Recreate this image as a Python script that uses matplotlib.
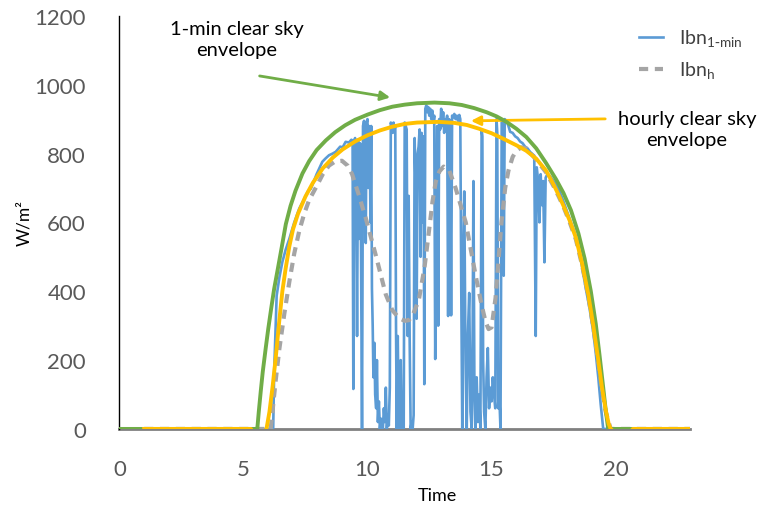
import matplotlib
matplotlib.use("Agg")
import matplotlib.pyplot as plt

plt.rcParams["font.family"] = ["Lato", "DejaVu Sans"]

# ----------------------
# data (hours, W/m2)
# ----------------------
# 1-min direct normal irradiance
blue_time = [0, 6.2, 6.24, 6.34, 6.45, 6.57, 6.7, 6.85, 7.05, 7.25, 7.45, 7.6, 7.72, 7.95, 8.18,
             8.3, 8.45, 8.6, 8.72, 8.9, 9.0, 9.12, 9.25, 9.35,
             9.40, 9.43, 9.46, 9.50, 9.55, 9.58, 9.62, 9.66, 9.70, 9.74, 9.78, 9.82, 9.86, 9.90,
             9.93, 9.96, 10.00, 10.03, 10.06, 10.09, 10.12, 10.15, 10.18, 10.21, 10.24, 10.28,
             10.31, 10.35, 10.38, 10.42, 10.46, 10.50, 10.54, 10.58, 10.62, 10.66, 10.70, 10.74,
             10.78, 10.82, 10.86, 10.90,
             10.94, 10.98, 11.02, 11.05, 11.09, 11.12, 11.15, 11.18, 11.22, 11.26, 11.30, 11.34,
             11.38, 11.42, 11.46, 11.50, 11.54, 11.58, 11.62, 11.66, 11.70, 11.74, 11.78, 11.82,
             11.86, 11.90, 11.94, 11.98, 12.02, 12.06, 12.10, 12.14, 12.18, 12.22, 12.26, 12.29,
             12.33, 12.37, 12.41, 12.45, 12.49, 12.53, 12.57, 12.61, 12.65, 12.69, 12.73, 12.77,
             12.81, 12.85, 12.89, 12.93, 12.97, 13.01, 13.05, 13.09, 13.13, 13.17, 13.21, 13.25,
             13.29, 13.33, 13.37, 13.41, 13.45, 13.50, 13.55, 13.60, 13.65, 13.70, 13.74, 13.78,
             13.82, 13.86, 13.90, 13.95, 14.00, 14.05, 14.10, 14.15, 14.20, 14.24, 14.27, 14.31,
             14.35, 14.40, 14.45, 14.50, 14.55, 14.60, 14.63, 14.66, 14.70, 14.75, 14.80, 14.85,
             14.90, 14.95, 15.00, 15.05, 15.10, 15.15, 15.20, 15.23, 15.27, 15.31, 15.36, 15.41,
             15.45, 15.49, 15.53, 15.60, 15.68, 15.75, 15.85, 15.95, 16.05, 16.15, 16.25, 16.35,
             16.45, 16.55, 16.65, 16.72, 16.78, 16.82, 16.88, 16.93, 16.98, 17.03, 17.08, 17.13,
             17.18, 17.25, 17.35, 17.5, 17.7, 17.85, 18.0, 18.2, 18.4, 18.6, 18.8, 18.95, 19.1,
             19.2, 19.3, 19.4, 19.5, 23]
blue_ibn = [0, 0, 166, 387, 440, 485, 520, 552, 600, 640, 668, 690, 698, 740, 776,
            785, 795, 800, 805, 820, 818, 834, 832, 840,
            838, 116, 830, 845, 600, 270, 840, 552, 830, 520, 0, 880, 895, 860,
            540, 890, 900, 700, 880, 850, 600, 880, 407, 300, 150, 250,
            100, 60, 200, 20, 80, 0, 30, 20, 0, 60, 20, 120,
            0, 40, 10, 120,
            890, 880, 860, 890, 870, 880, 300, 0, 270, 20, 0, 200,
            0, 100, 0, 890, 880, 870, 270, 677, 260, 0, 20, 0,
            40, 845, 700, 320, 800, 820, 870, 500, 860, 600, 850, 130,
            930, 940, 920, 935, 910, 930, 900, 925, 890, 910, 203, 600,
            880, 300, 900, 870, 930, 880, 920, 860, 900, 880, 910, 328,
            900, 880, 330, 910, 905, 915, 900, 910, 895, 912, 900, 400,
            0, 500, 690, 200, 0, 280, 395, 50, 0, 300, 720, 100,
            0, 150, 20, 100, 0, 870, 850, 200, 50, 0, 150, 235,
            60, 120, 80, 150, 100, 60, 900, 860, 60, 100, 0, 900,
            890, 445, 900, 895, 880, 863, 860, 850, 845, 835, 830, 820,
            815, 805, 798, 794, 270, 760, 720, 600, 740, 650, 720, 484,
            730, 740, 735, 720, 697, 670, 640, 600, 560, 490, 407, 350, 280,
            220, 150, 70, 0, 0]

# hourly direct normal irradiance
gray_time = [1, 6.1, 6.3, 6.45, 6.65, 6.85, 7.05, 7.25, 7.45, 7.65, 7.95, 8.2, 8.45, 8.7, 8.97,
             9.2, 9.38, 9.65, 9.94, 10.34, 10.74, 11.0, 11.27, 11.5, 11.67, 11.85, 12.07, 12.3,
             12.47, 12.62, 12.75, 12.9, 13.07, 13.3, 13.55, 13.96, 14.36, 14.6, 14.76, 14.88,
             15.0, 15.16, 15.4, 15.55, 15.68, 15.85, 16.0, 16.2, 16.4, 16.8, 17.2, 17.5, 17.7,
             17.9, 18.15, 18.4, 18.65, 18.9, 19.1, 19.3, 19.45, 19.6, 19.8, 23]
gray_ibn = [0, 0, 140, 233, 335, 427, 510, 575, 625, 665, 705, 740, 765, 777, 779,
            765, 740, 680, 610, 503, 390, 345, 322, 314, 316, 335, 375, 470,
            570, 660, 718, 748, 762, 750, 700, 600, 445, 360, 311, 290,
            295, 380, 600, 700, 750, 790, 808, 818, 815, 782, 745, 705, 676,
            645, 600, 550, 475, 385, 295, 195, 115, 50, 0, 0]

# 1-min clear sky envelope
green_time = [0, 5.56, 5.62, 5.7, 5.78, 5.9, 6.0, 6.12, 6.24, 6.4, 6.55, 6.71, 6.9, 7.1, 7.38,
              7.65, 7.95, 8.32, 8.7, 9.1, 9.5, 10.0, 10.5, 11.0, 11.5, 12.0, 12.7, 13.3, 13.8,
              14.3, 14.8, 15.2, 15.6, 16.0, 16.4, 16.8, 17.2, 17.6, 17.9, 18.2, 18.5, 18.75,
              19.0, 19.2, 19.35, 19.5, 19.6, 19.7, 23]
green_ibn = [0, 0, 50, 110, 166, 235, 290, 350, 407, 470, 530, 595, 648, 692, 742,
             778, 810, 838, 862, 882, 898, 913, 926, 936, 942, 946, 948, 946, 941,
             932, 920, 908, 892, 872, 848, 815, 772, 725, 685, 635, 568, 495,
             400, 305, 215, 120, 55, 0, 0]

# hourly clear sky envelope
yellow_time = [1, 5.3, 5.5, 5.75, 5.93, 6.05, 6.18, 6.31, 6.44, 6.57, 6.7, 6.85, 7.0, 7.2, 7.5,
               7.8, 8.2, 8.6, 9.0, 9.5, 10.0, 10.5, 11.0, 11.5, 12.0, 12.87, 13.5, 14.0, 14.5,
               15.0, 15.5, 16.0, 16.4, 16.8, 17.2, 17.5, 17.7, 17.9, 18.15, 18.4, 18.65, 18.9,
               19.1, 19.3, 19.45, 19.6, 19.72, 19.8, 20.1, 20.5, 20.7, 23]
yellow_ibn = [0, 0, -20, -15, 0, 50, 125, 212, 310, 400, 465, 530, 580, 625, 675,
              715, 757, 788, 812, 835, 853, 867, 878, 886, 890, 892, 889, 883, 872,
              859, 842, 824, 808, 785, 750, 710, 680, 648, 605, 555, 480, 390,
              300, 200, 120, 55, 15, 0, -20, -15, 0, 0]

y_ticks = [0, 200, 400, 600, 800, 1000, 1200]
x_ticks = [0, 5, 10, 15, 20]

# ----------------------
# plot
# ----------------------
fig = plt.figure(figsize=(7.6, 5.1), dpi=100)
ax = fig.add_axes([0.157, 0.157, 0.751, 0.81])

ax.plot(blue_time, blue_ibn, color="#5B9BD5", lw=1.9, label="Ibn$_{\\mathregular{1\\text{-}min}}$", zorder=2)
ax.plot(gray_time, gray_ibn, color="#A5A5A5", lw=3.0, dashes=(2.2, 1.6),
        label="Ibn$_{\\mathregular{h}}$", zorder=3)
ax.plot(green_time, green_ibn, color="#70AD47", lw=2.8, zorder=4)
ax.plot(yellow_time, yellow_ibn, color="#FFC000", lw=2.8, zorder=5)

ax.set_xlim(0, 23)
ax.set_ylim(0, 1200)
ax.set_xticks(x_ticks)
ax.set_yticks(y_ticks)
ax.tick_params(length=0, labelsize=16, labelcolor="#595959")
ax.tick_params(axis="y", pad=24)
ax.tick_params(axis="x", pad=22)

for s in ["top", "right"]:
    ax.spines[s].set_visible(False)
ax.spines["left"].set_color("black")
ax.spines["left"].set_linewidth(1.0)
ax.spines["bottom"].set_color("#808080")
ax.spines["bottom"].set_linewidth(2.0)
ax.spines["bottom"].set_zorder(1)

ax.set_xlabel("Time", fontsize=13)
ax.xaxis.set_label_coords(0.558, -0.14)
ax.set_ylabel("W/m²", fontsize=12.5)
ax.yaxis.set_label_coords(-0.152, 0.5)

# annotations with arrows
fig.text(0.312, 0.922, "1-min clear sky\nenvelope", ha="center", va="center",
         fontsize=14.5, linespacing=1.25)
ax.annotate("", xy=(0.517, 0.806), xycoords="figure fraction",
            xytext=(0.338, 0.850), textcoords="figure fraction",
            arrowprops=dict(arrowstyle="-|>", color="#70AD47", lw=2, mutation_scale=14))

fig.text(0.904, 0.745, "hourly clear sky\nenvelope", ha="center", va="center",
         fontsize=14.5, linespacing=1.25)
ax.annotate("", xy=(0.616, 0.761), xycoords="figure fraction",
            xytext=(0.800, 0.765), textcoords="figure fraction",
            arrowprops=dict(arrowstyle="-|>", color="#FFC000", lw=2, mutation_scale=14))

ax.legend(loc="upper left", bbox_to_anchor=(0.828, 0.962), bbox_transform=fig.transFigure,
          frameon=False, fontsize=14, handlelength=1.25, handletextpad=0.8,
          labelspacing=0.55, borderpad=0, labelcolor="#404040")

fig.savefig("out.png", dpi=100)
